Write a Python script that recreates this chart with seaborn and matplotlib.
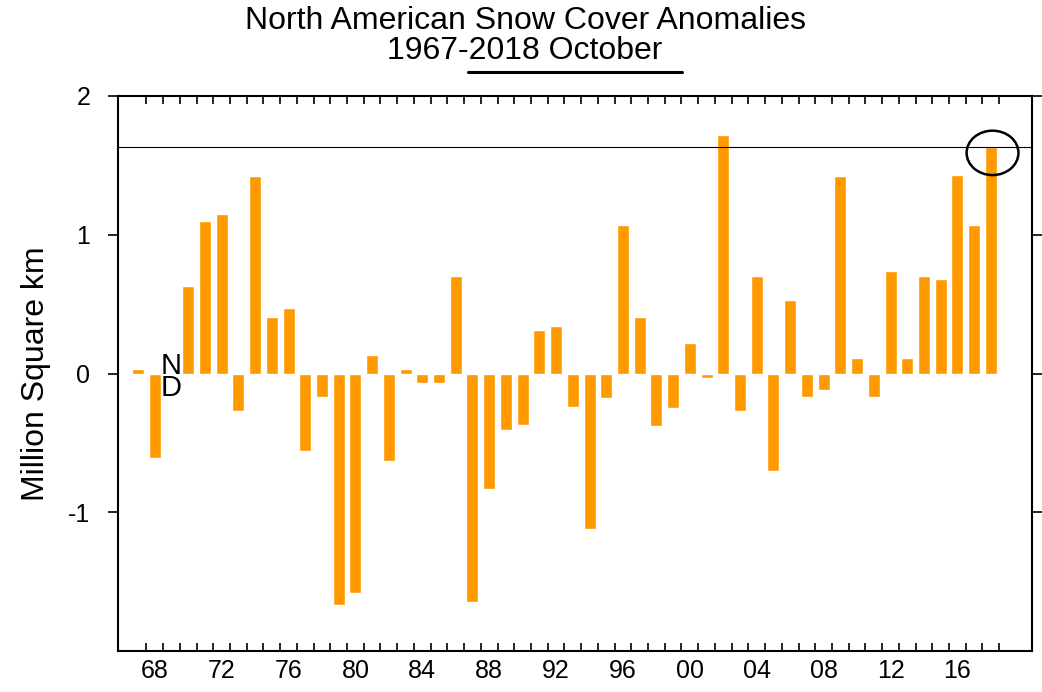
import numpy as np
import pandas as pd
import matplotlib
matplotlib.use("Agg")
import matplotlib.pyplot as plt
import seaborn as sns
from matplotlib.patches import Ellipse
from matplotlib.lines import Line2D

# October snow cover anomalies, million km^2 (1969: no data)
years = list(range(1967, 2019))
anomaly = [0.03, -0.61, np.nan, 0.63, 1.10, 1.15, -0.27, 1.42, 0.41, 0.47,
           -0.56, -0.17, -1.67, -1.58, 0.13, -0.63, 0.03, -0.07, -0.07, 0.70,
           -1.65, -0.83, -0.41, -0.37, 0.31, 0.34, -0.24, -1.12, -0.18, 1.07,
           0.41, -0.38, -0.25, 0.22, -0.03, 1.72, -0.27, 0.70, -0.70, 0.53,
           -0.17, -0.12, 1.42, 0.11, -0.17, 0.74, 0.11, 0.70, 0.68, 1.43,
           1.07, 1.63]
label_years = list(range(1968, 2017, 4))
label_text = [str(y)[2:] for y in label_years]
y_ticks = [-1, 0, 1, 2]

df = pd.DataFrame({"Year": years, "Anomaly": anomaly}).dropna()

sns.set_style("white")
plt.rcParams["font.family"] = ["Liberation Sans", "DejaVu Sans"]
plt.rcParams["text.color"] = "black"
plt.rcParams["axes.labelcolor"] = "black"
plt.rcParams["xtick.color"] = "black"
plt.rcParams["ytick.color"] = "black"

fig = plt.figure(figsize=(10.42, 6.92), dpi=100)
ax = fig.add_axes([0.1132, 0.0592, 0.8772, 0.8021])

sns.barplot(data=df, x="Year", y="Anomaly", native_scale=True, color="#ff9900",
            saturation=1, width=0.72, errorbar=None, ax=ax)

ax.set_xlim(1965.8, 2020.46)
ax.set_ylim(-2, 2)

# reference line at the latest value
ax.axhline(anomaly[-1], color="black", lw=0.8)
ax.add_patch(Ellipse((2018.1, 1.59), 3.1, 0.32, fill=False, ec="black", lw=1.8))

# no-data marker for 1969
ax.text(1969, 0.0, "N", ha="center", va="baseline", fontsize=21, color="black")
ax.text(1969, -0.16, "D", ha="center", va="baseline", fontsize=21, color="black")

ax.set_xticks(label_years)
ax.set_xticklabels(label_text)
ax.set_xticks(np.arange(1967.5, 2019, 1), minor=True)
ax.tick_params(axis="x", which="major", length=0, labelsize=18, pad=6)
ax.tick_params(axis="x", which="minor", direction="in", top=True, bottom=True,
               length=6, width=1.2)
ax.set_yticks(y_ticks)
ax.set_yticklabels([str(v) for v in y_ticks])
ax.tick_params(axis="y", direction="out", left=True, right=True, length=7,
               width=1.2, labelsize=18, pad=13)

for s in ax.spines.values():
    s.set_color("black")
    s.set_linewidth(1.5)

ax.set_xlabel("")
ax.set_ylabel("Million Square km", fontsize=23, labelpad=12)

fig.text(0.504, 1 - 21 / 692, "North American Snow Cover Anomalies", ha="center",
         va="center", fontsize=23)
fig.text(0.504, 1 - 51 / 692, "1967-2018 October", ha="center", va="center",
         fontsize=23)
fig.add_artist(Line2D([468 / 1042, 682 / 1042], [1 - 72 / 692] * 2,
                      transform=fig.transFigure, color="black", lw=2.2))

fig.savefig("out.png", dpi=100)
